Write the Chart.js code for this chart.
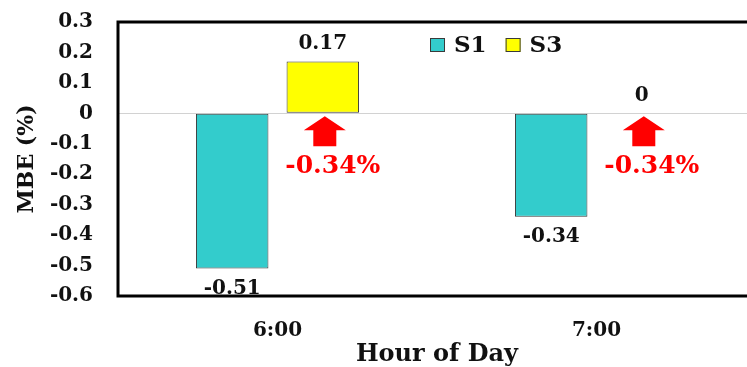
<!DOCTYPE html>
<html>
<head>
<meta charset="utf-8">
<script src="https://cdn.jsdelivr.net/npm/chart.js@4/dist/chart.umd.min.js"></script>
<style>
  html, body { margin: 0; padding: 0; overflow: hidden; background: #ffffff; }
  canvas { display: block; }
</style>
</head>
<body>
<canvas id="mbeChart" width="760" height="367"></canvas>
<script>
// Hours on the x axis
const hours = ['6:00', '7:00'];
// Mean bias error (%) per scheme
const s1Values = [-0.51, -0.34];
const s3Values = [0.17, 0];
// Y axis tick values
const yTicks = [0.3, 0.2, 0.1, 0, -0.1, -0.2, -0.3, -0.4, -0.5, -0.6];
// Change from S1 to S3 shown under each S3 bar
const changeLabels = ['-0.34%', '-0.34%'];

const FONT = '"DejaVu Serif", "Liberation Serif", serif';
const INK = '#111111';

// Values printed above (positive / zero) or below (negative) each bar
const valueLabels = {
  id: 'valueLabels',
  afterDatasetsDraw(chart) {
    const { ctx } = chart;
    ctx.save();
    ctx.font = 'bold 20px ' + FONT;
    ctx.fillStyle = INK;
    ctx.textAlign = 'center';
    ctx.textBaseline = 'middle';
    chart.data.datasets.forEach((ds, di) => {
      chart.getDatasetMeta(di).data.forEach((bar, i) => {
        const v = ds.data[i];
        const y = v >= 0 ? bar.y - 18 : bar.y + 20;
        ctx.fillText(String(v), bar.x, y);
      });
    });
    ctx.restore();
  }
};

// Red up-arrows with the change value under the S3 bars
const changeArrows = {
  id: 'changeArrows',
  afterDatasetsDraw(chart) {
    const { ctx } = chart;
    const zero = chart.scales.y.getPixelForValue(0);
    ctx.save();
    ctx.fillStyle = '#ff0000';
    chart.getDatasetMeta(1).data.forEach((bar, i) => {
      const cx = bar.x + 2;
      const tip = zero + 3;
      ctx.beginPath();
      ctx.moveTo(cx, tip);
      ctx.lineTo(cx + 21, tip + 14);
      ctx.lineTo(cx + 11.5, tip + 14);
      ctx.lineTo(cx + 11.5, tip + 30);
      ctx.lineTo(cx - 11.5, tip + 30);
      ctx.lineTo(cx - 11.5, tip + 14);
      ctx.lineTo(cx - 21, tip + 14);
      ctx.closePath();
      ctx.fill();
      ctx.font = 'bold 25px ' + FONT;
      ctx.textAlign = 'center';
      ctx.textBaseline = 'middle';
      ctx.fillText(changeLabels[i], cx + 8, tip + 50);
    });
    ctx.restore();
  }
};

// Legend inside the plot area, top right of centre
const innerLegend = {
  id: 'innerLegend',
  afterDatasetsDraw(chart) {
    const { ctx } = chart;
    ctx.save();
    ctx.font = 'bold 23px ' + FONT;
    ctx.textBaseline = 'middle';
    ctx.textAlign = 'left';
    let x = 430;
    const y = 45;
    chart.data.datasets.forEach((ds) => {
      ctx.fillStyle = ds.backgroundColor;
      ctx.fillRect(x, y - 7, 15, 14);
      ctx.strokeStyle = '#3a3a3a';
      ctx.lineWidth = 1;
      ctx.strokeRect(x + 0.5, y - 6.5, 14, 13);
      ctx.fillStyle = INK;
      ctx.fillText(ds.label, x + 24, y + 1);
      x += 24 + ctx.measureText(ds.label).width + 19;
    });
    ctx.restore();
  }
};

// Heavy frame on the left, top and bottom of the plot area
const plotFrame = {
  id: 'plotFrame',
  afterDraw(chart) {
    const { ctx, chartArea: a, width } = chart;
    ctx.save();
    ctx.strokeStyle = '#000000';
    ctx.lineWidth = 3;
    ctx.lineCap = 'square';
    ctx.beginPath();
    ctx.moveTo(width, a.top);
    ctx.lineTo(a.left, a.top);
    ctx.lineTo(a.left, a.bottom);
    ctx.lineTo(width, a.bottom);
    ctx.stroke();
    ctx.restore();
  }
};

new Chart(document.getElementById('mbeChart'), {
  type: 'bar',
  data: {
    labels: hours,
    datasets: [
      {
        label: 'S1',
        data: s1Values,
        backgroundColor: '#33cccc',
        borderColor: '#3a3a3a',
        borderWidth: 1,
        borderSkipped: false
      },
      {
        label: 'S3',
        data: s3Values,
        backgroundColor: '#ffff00',
        borderColor: '#3a3a3a',
        borderWidth: (c) => (c.raw === 0 ? 0 : 1),
        borderSkipped: false
      }
    ]
  },
  options: {
    responsive: false,
    animation: false,
    devicePixelRatio: 1,
    layout: { padding: { top: 22, right: 4, bottom: 0, left: 0 } },
    datasets: { bar: { categoryPercentage: 0.568, barPercentage: 0.8 } },
    plugins: {
      legend: { display: false },
      tooltip: { enabled: false }
    },
    scales: {
      x: {
        grid: { display: false },
        border: { display: false },
        ticks: {
          color: INK,
          padding: 15,
          font: { family: FONT, size: 20, weight: 'bold' }
        },
        title: {
          display: true,
          text: 'Hour of Day',
          color: INK,
          padding: { top: 0, bottom: 0 },
          font: { family: FONT, size: 24, weight: 'bold', lineHeight: 1 }
        },
        afterFit(scale) { scale.height = 71; }
      },
      y: {
        min: Math.min(...yTicks),
        max: Math.max(...yTicks),
        afterBuildTicks(scale) {
          scale.ticks = yTicks.map((v) => ({ value: v }));
        },
        grid: {
          drawTicks: false,
          lineWidth: 1,
          color: (c) => (c.tick && c.tick.value === 0 ? '#d2d2d2' : 'rgba(0,0,0,0)')
        },
        border: { display: false },
        ticks: {
          color: INK,
          padding: 25,
          font: { family: FONT, size: 20, weight: 'bold' },
          callback: (v) => {
            const r = Math.round(v * 10) / 10;
            return r === 0 ? '0' : String(r);
          }
        },
        title: {
          display: true,
          text: 'MBE (%)',
          color: INK,
          padding: { top: 14, bottom: 0 },
          font: { family: FONT, size: 22, weight: 'bold' }
        },
        afterFit(scale) {
          scale.width = 118;
          scale.paddingTop = 0;
          scale.paddingBottom = 0;
        }
      }
    }
  },
  plugins: [valueLabels, changeArrows, innerLegend, plotFrame]
});
</script>
</body>
</html>
